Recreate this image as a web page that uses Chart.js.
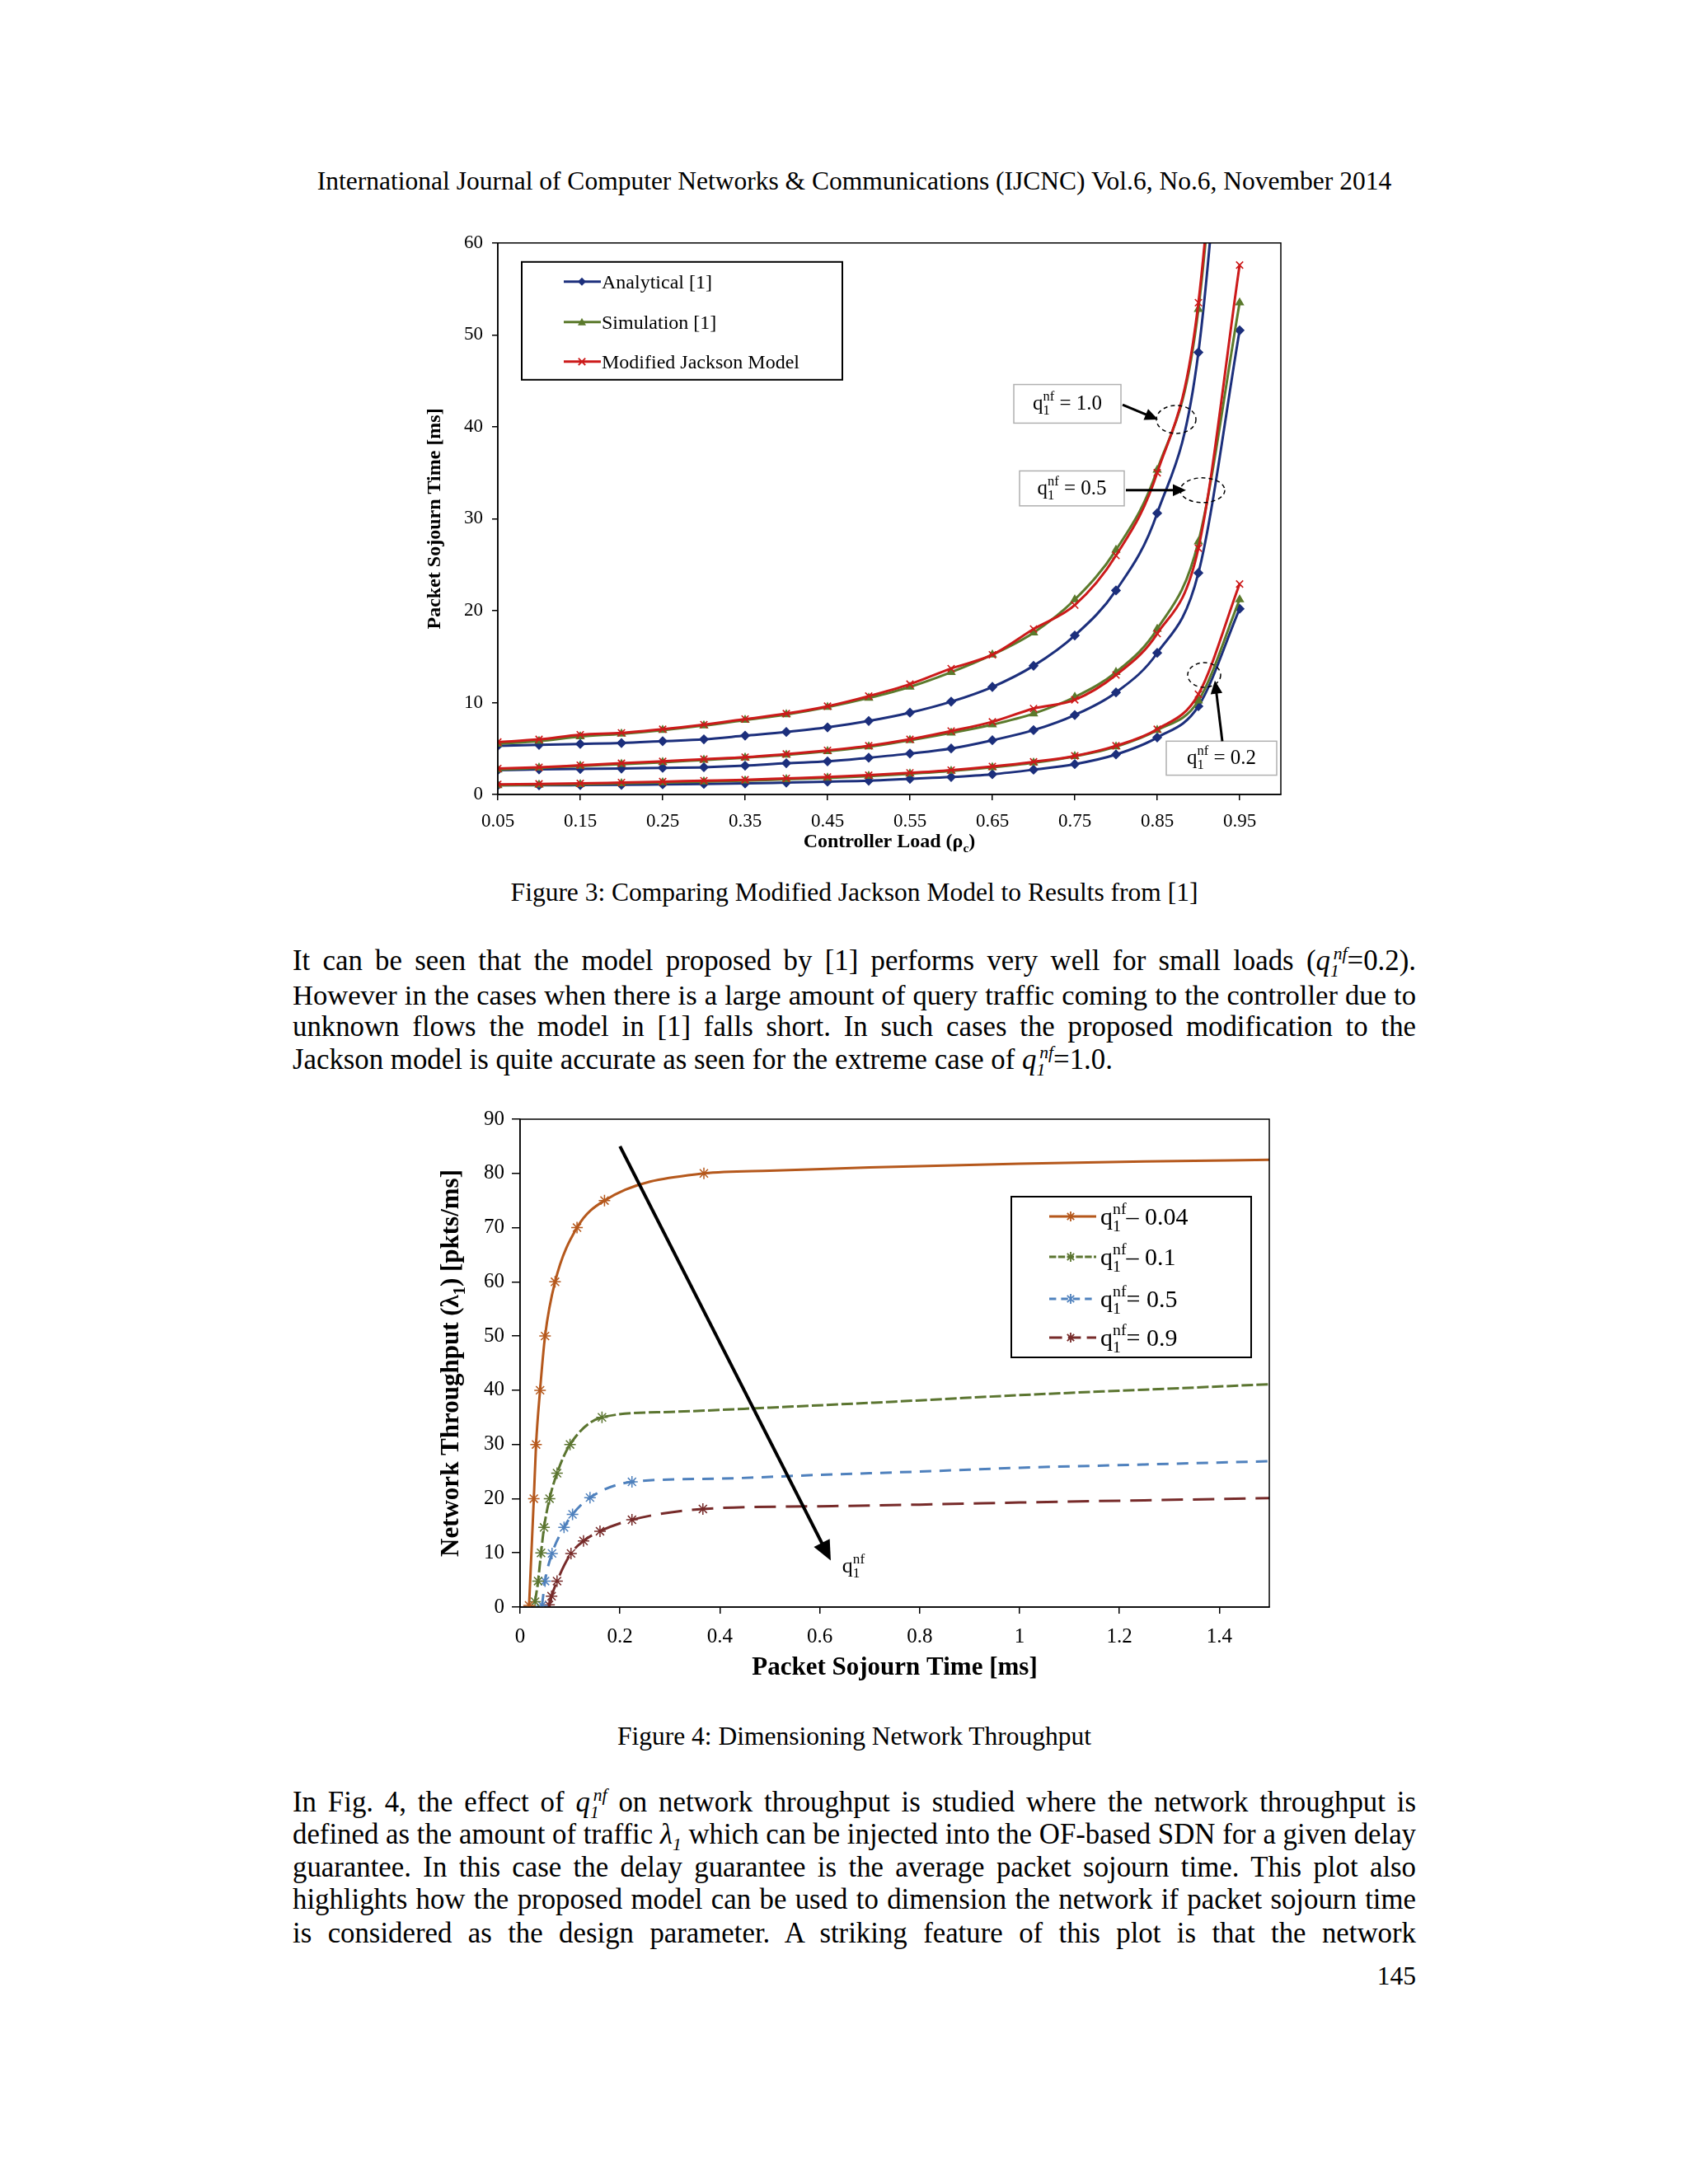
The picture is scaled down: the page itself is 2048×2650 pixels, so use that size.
<!DOCTYPE html>
<html>
<head>
<meta charset="utf-8">
<script src="https://cdn.jsdelivr.net/npm/chart.js@4/dist/chart.umd.min.js"></script>
<style>
body { margin: 0; background: #fff; }
#page { position: relative; width: 2048px; height: 2650px; background: #fff; color: #000;
        font-family: "Liberation Serif", "Times New Roman", serif; }
.line { position: absolute; left: 355px; width: 1363px; height: 40px; line-height: 40px; font-size: 31.5px; }
.body { font-size: 34.8px; }
.just { text-align: justify; text-align-last: justify; }
.center { text-align: center; }
.right { text-align: right; }
sub, sup { font-size: 0.62em; line-height: 0; }
sup.nf { margin-left: -0.32em; }
canvas { position: absolute; }
</style>
</head>
<body>
<div id="page">
  <div class="line center" style="top:200px">International Journal of Computer Networks &amp; Communications (IJCNC) Vol.6, No.6, November 2014</div>

  <canvas id="chartOne" width="1080" height="790" style="left:500px; top:270px"></canvas>

  <div class="line center" style="top:1063px">Figure 3: Comparing Modified Jackson Model to Results from [1]</div>

  <div class="line body just" style="top:1146px">It can be seen that the model proposed by [1] performs very well for small loads (<i>q<sub>1</sub><sup class="nf">nf</sup></i>=0.2).</div>
  <div class="line body just" style="top:1187px">However in the cases when there is a large amount of query traffic coming to the controller due to</div>
  <div class="line body just" style="top:1226px">unknown flows the model in [1] falls short. In such cases the proposed modification to the</div>
  <div class="line body" style="top:1266px">Jackson model is quite accurate as seen for the extreme case of <i>q<sub>1</sub><sup class="nf">nf</sup></i>=1.0.</div>

  <canvas id="chartTwo" width="1080" height="740" style="left:500px; top:1330px"></canvas>

  <div class="line center" style="top:2087px">Figure 4: Dimensioning Network Throughput</div>

  <div class="line body just" style="top:2167px">In Fig. 4, the effect of <i>q<sub>1</sub><sup class="nf">nf</sup></i> on network throughput is studied where the network throughput is</div>
  <div class="line body just" style="top:2206px">defined as the amount of traffic <i>λ<sub>1</sub></i> which can be injected into the OF-based SDN for a given delay</div>
  <div class="line body just" style="top:2246px">guarantee. In this case the delay guarantee is the average packet sojourn time. This plot also</div>
  <div class="line body just" style="top:2285px">highlights how the proposed model can be used to dimension the network if packet sojourn time</div>
  <div class="line body just" style="top:2326px">is considered as the design parameter. A striking feature of this plot is that the network</div>
  <div class="line right" style="top:2378px">145</div>
</div>

<script>
// shrink a text line slightly if it would wrap
document.querySelectorAll(".line").forEach(el => {
    let fs = parseFloat(getComputedStyle(el).fontSize);
    while (el.scrollHeight > 48 && fs > 20) {
        fs -= 0.2;
        el.style.fontSize = fs + "px";
    }
});

// ---------- Figure 3 data: packet sojourn time [ms] vs controller load ----------
const loads = [0.05, 0.10, 0.15, 0.20, 0.25, 0.30, 0.35, 0.40, 0.45, 0.50,
               0.55, 0.60, 0.65, 0.70, 0.75, 0.80, 0.85, 0.90, 0.95];
const loadTicks = [0.05, 0.15, 0.25, 0.35, 0.45, 0.55, 0.65, 0.75, 0.85, 0.95];
const seriesNames = ["Analytical [1]", "Simulation [1]", "Modified Jackson Model"];

// q1nf = 1.0
const analyticalQ10 = [5.3, 5.4, 5.5, 5.6, 5.8, 6.0, 6.4, 6.8, 7.3, 8.0, 8.9, 10.1, 11.7, 14.0, 17.3, 22.2, 30.6, 48.1, 100];
const simulationQ10 = [5.5, 5.8, 6.3, 6.6, 7.0, 7.5, 8.1, 8.7, 9.5, 10.5, 11.7, 13.3, 15.2, 17.6, 21.2, 26.6, 35.3, 52.8, 108];
const jacksonQ10    = [5.7, 6.0, 6.5, 6.7, 7.1, 7.6, 8.2, 8.8, 9.6, 10.7, 12.0, 13.7, 15.2, 18.0, 20.6, 26.0, 35.0, 53.5, 110];
// q1nf = 0.5
const analyticalQ05 = [2.65, 2.73, 2.78, 2.82, 2.9, 2.96, 3.13, 3.4, 3.6, 4.0, 4.45, 5.0, 5.9, 7.0, 8.65, 11.1, 15.4, 24.1, 50.5];
const simulationQ05 = [2.7, 2.9, 3.1, 3.3, 3.5, 3.75, 4.0, 4.3, 4.7, 5.2, 5.9, 6.7, 7.6, 8.8, 10.6, 13.3, 18.0, 27.5, 53.5];
const jacksonQ05    = [2.82, 2.96, 3.18, 3.4, 3.6, 3.84, 4.06, 4.4, 4.8, 5.3, 6.0, 6.9, 7.9, 9.35, 10.3, 13.0, 17.5, 26.8, 57.6];
// q1nf = 0.2
const analyticalQ02 = [1.0, 1.0, 1.02, 1.05, 1.1, 1.15, 1.2, 1.3, 1.4, 1.5, 1.7, 1.9, 2.2, 2.7, 3.3, 4.35, 6.2, 9.6, 20.2];
const simulationQ02 = [1.0, 1.05, 1.1, 1.2, 1.3, 1.4, 1.5, 1.65, 1.8, 2.0, 2.25, 2.55, 2.95, 3.45, 4.15, 5.2, 7.0, 10.2, 21.2];
const jacksonQ02    = [1.1, 1.15, 1.2, 1.3, 1.4, 1.5, 1.6, 1.75, 1.9, 2.1, 2.35, 2.65, 3.05, 3.55, 4.2, 5.3, 7.1, 10.9, 22.9];

// ---------- Figure 4 data: throughput [pkts/ms] vs packet sojourn time [ms] ----------
const delayTicks = [0, 0.2, 0.4, 0.6, 0.8, 1.0, 1.2, 1.4];
const qValues = ["0.04", "0.1", "0.5", "0.9"];
const qSigns = ["\u2013", "\u2013", "=", "="];

const delayQ004 = [0.018, 0.0275, 0.032, 0.040, 0.050, 0.070, 0.114, 0.169, 0.368];
const thrQ004   = [0.3, 20, 30, 40, 50, 60, 70, 75, 80];
const delayTailQ004 = [0.5, 0.7, 1.0, 1.25, 1.5];
const thrTailQ004   = [80.5, 81.1, 81.8, 82.2, 82.5];

const delayQ01 = [0.030, 0.036, 0.042, 0.048, 0.059, 0.074, 0.100, 0.164];
const thrQ01   = [1.0, 4.8, 10, 14.7, 20, 24.7, 30, 35];
const delayTailQ01 = [0.3, 0.5, 0.75, 1.0, 1.25, 1.5];
const thrTailQ01   = [36.0, 36.8, 37.9, 39.1, 40.1, 41.1];

const delayQ05 = [0.044, 0.050, 0.064, 0.088, 0.105, 0.140, 0.224];
const thrQ05   = [0.3, 4.8, 9.9, 14.7, 17.1, 20.2, 23.1];
const delayTailQ05 = [0.4, 0.6, 0.8, 1.0, 1.25, 1.5];
const thrTailQ05   = [23.7, 24.4, 25.0, 25.7, 26.3, 26.9];

const delayQ09 = [0.058, 0.063, 0.074, 0.102, 0.127, 0.160, 0.224, 0.366];
const thrQ09   = [0.4, 2.0, 4.8, 9.9, 12.2, 14.0, 16.1, 18.1];
const delayTailQ09 = [0.6, 0.8, 1.0, 1.25, 1.5];
const thrTailQ09   = [18.6, 18.9, 19.3, 19.7, 20.1];

const FONT = '"Liberation Serif", "Times New Roman", serif';
Chart.defaults.font.family = FONT;
Chart.defaults.color = "#000";

// draw text made of runs: [text, sizeScale, baselineShift, stackOnPrevious]
function drawRuns(ctx, runs, x, y, size, weight, align) {
    let cursor = 0, prevStart = 0;
    const placed = runs.map(r => {
        const [t, sc = 1, sh = 0, stack = false] = r;
        ctx.font = weight + " " + (size * sc) + "px " + FONT;
        const w = ctx.measureText(t).width;
        const start = stack ? prevStart : cursor;
        prevStart = start;
        cursor = Math.max(cursor, start + w);
        return { t, sc, sh, start };
    });
    let x0 = x;
    if (align === "center") x0 = x - cursor / 2;
    if (align === "right") x0 = x - cursor;
    ctx.textBaseline = "alphabetic";
    ctx.textAlign = "left";
    placed.forEach(p => {
        ctx.font = weight + " " + (size * p.sc) + "px " + FONT;
        ctx.fillText(p.t, x0 + p.start, y + p.sh * size);
    });
}

function qRuns(rest) {
    return [["q"], ["1", 0.66, 0.25], ["nf", 0.66, -0.42, true], [rest]];
}

function drawMarker(ctx, style, x, y, r, color) {
    ctx.save();
    ctx.strokeStyle = color;
    ctx.fillStyle = color;
    ctx.lineWidth = 1.8;
    ctx.beginPath();
    if (style === "rectRot") {
        ctx.moveTo(x, y - r); ctx.lineTo(x + r, y); ctx.lineTo(x, y + r); ctx.lineTo(x - r, y);
        ctx.closePath(); ctx.fill();
    } else if (style === "triangle") {
        ctx.moveTo(x, y - r); ctx.lineTo(x + r, y + r * 0.8); ctx.lineTo(x - r, y + r * 0.8);
        ctx.closePath(); ctx.fill();
    } else {
        ctx.moveTo(x - r * 0.7, y - r * 0.7); ctx.lineTo(x + r * 0.7, y + r * 0.7);
        ctx.moveTo(x + r * 0.7, y - r * 0.7); ctx.lineTo(x - r * 0.7, y + r * 0.7);
        if (style === "star") { ctx.moveTo(x, y - r); ctx.lineTo(x, y + r); }
        ctx.stroke();
    }
    ctx.restore();
}

function drawArrow(ctx, x1, y1, x2, y2, width, head) {
    const ang = Math.atan2(y2 - y1, x2 - x1);
    ctx.save();
    ctx.strokeStyle = "#000";
    ctx.fillStyle = "#000";
    ctx.lineWidth = width;
    ctx.beginPath();
    ctx.moveTo(x1, y1);
    ctx.lineTo(x2 - Math.cos(ang) * head * 0.8, y2 - Math.sin(ang) * head * 0.8);
    ctx.stroke();
    ctx.beginPath();
    ctx.moveTo(x2, y2);
    ctx.lineTo(x2 - head * Math.cos(ang) + head * 0.45 * Math.sin(ang), y2 - head * Math.sin(ang) - head * 0.45 * Math.cos(ang));
    ctx.lineTo(x2 - head * Math.cos(ang) - head * 0.45 * Math.sin(ang), y2 - head * Math.sin(ang) + head * 0.45 * Math.cos(ang));
    ctx.closePath();
    ctx.fill();
    ctx.restore();
}

function dashedEllipse(ctx, cx, cy, rx, ry) {
    ctx.save();
    ctx.strokeStyle = "#000";
    ctx.lineWidth = 1.5;
    ctx.setLineDash([5, 4]);
    ctx.beginPath();
    ctx.ellipse(cx, cy, rx, ry, 0, 0, Math.PI * 2);
    ctx.stroke();
    ctx.restore();
}

function axisOpts(tickSize, tickLen, pad, extent, isX) {
    return {
        type: "linear",
        grid: { display: true, drawOnChartArea: false, drawTicks: true, tickLength: tickLen, color: "#000", lineWidth: 1.5 },
        border: { display: true, color: "#000", width: 1.5 },
        ticks: { font: { size: tickSize }, padding: pad, maxRotation: 0, autoSkip: false, color: "#000" },
        afterFit: isX ? s => { s.height = extent; } : s => { s.width = extent; }
    };
}

// ---------------- Figure 3 ----------------
const modelLook = [
    { color: "#1c2f7c", point: "rectRot", radius: 5 },
    { color: "#5b7a2c", point: "triangle", radius: 5 },
    { color: "#cc1a1a", point: "crossRot", radius: 6 }
];
const groups = [
    [analyticalQ10, simulationQ10, jacksonQ10],
    [analyticalQ05, simulationQ05, jacksonQ05],
    [analyticalQ02, simulationQ02, jacksonQ02]
];
let datasetsOne = [];
groups.forEach(group => {
    // red first so it sits on top
    [2, 1, 0].forEach(m => {
        datasetsOne.push({
            label: seriesNames[m],
            data: loads.map((x, i) => ({ x: x, y: group[m][i] })),
            showLine: true,
            borderColor: modelLook[m].color,
            backgroundColor: modelLook[m].color,
            borderWidth: 3,
            pointStyle: modelLook[m].point,
            pointRadius: modelLook[m].radius,
            pointBorderWidth: 1.6,
            cubicInterpolationMode: "monotone"
        });
    });
});

const xOne = axisOpts(23, 7, 12, 96, true);
xOne.min = 0.05; xOne.max = 1.0;
xOne.afterBuildTicks = s => { s.ticks = loadTicks.map(v => ({ value: v })); };
xOne.ticks.callback = v => v.toFixed(2);
const yOne = axisOpts(23, 7, 11, 104, false);
yOne.min = 0; yOne.max = 60;
yOne.ticks.stepSize = 10;

const decorOne = {
    id: "decorOne",
    afterDraw(chart) {
        const ctx = chart.ctx, a = chart.chartArea;
        const xs = chart.scales.x, ys = chart.scales.y;
        const px = v => xs.getPixelForValue(v), py = v => ys.getPixelForValue(v);
        ctx.save();
        ctx.fillStyle = "#000";
        ctx.strokeStyle = "#000";
        ctx.lineWidth = 1.5;
        ctx.strokeRect(a.left, a.top, a.right - a.left, a.bottom - a.top);

        // legend
        const lx = a.left + 29, ly = a.top + 23;
        ctx.fillStyle = "#fff";
        ctx.fillRect(lx, ly, 389, 143);
        ctx.lineWidth = 2;
        ctx.strokeRect(lx, ly, 389, 143);
        [24, 73, 121].forEach((dy, m) => {
            const yy = ly + dy;
            ctx.strokeStyle = modelLook[m].color;
            ctx.lineWidth = 3;
            ctx.beginPath(); ctx.moveTo(lx + 51, yy); ctx.lineTo(lx + 96, yy); ctx.stroke();
            drawMarker(ctx, modelLook[m].point, lx + 73, yy, modelLook[m].radius, modelLook[m].color);
            ctx.fillStyle = "#000";
            drawRuns(ctx, [[seriesNames[m]]], lx + 97, yy + 8, 24, "normal", "left");
        });

        // callouts
        const boxes = [
            { x0: 0.676, y0: 44.6, x1: 0.806, y1: 40.4, text: " = 1.0" },
            { x0: 0.683, y0: 35.2, x1: 0.810, y1: 31.4, text: " = 0.5" },
            { x0: 0.861, y0: 5.8, x1: 0.995, y1: 2.1, text: " = 0.2" }
        ];
        boxes.forEach(b => {
            const bx = px(b.x0), by = py(b.y0), bw = px(b.x1) - bx, bh = py(b.y1) - by;
            ctx.fillStyle = "#fff";
            ctx.fillRect(bx, by, bw, bh);
            ctx.strokeStyle = "#b0b0b0";
            ctx.lineWidth = 1.5;
            ctx.strokeRect(bx, by, bw, bh);
            ctx.fillStyle = "#000";
            drawRuns(ctx, qRuns(b.text), bx + bw / 2, by + bh / 2 + 7, 25, "normal", "center");
        });
        dashedEllipse(ctx, px(0.873), py(40.8), 24, 17);
        dashedEllipse(ctx, px(0.905), py(33.1), 27, 15);
        dashedEllipse(ctx, px(0.907), py(13.0), 20, 15);
        drawArrow(ctx, px(0.808), py(42.4), px(0.851), py(40.8), 3, 16);
        drawArrow(ctx, px(0.812), py(33.1), px(0.885), py(33.1), 3, 16);
        drawArrow(ctx, px(0.929), py(5.8), px(0.920), py(12.4), 3, 16);

        // axis titles
        ctx.fillStyle = "#000";
        drawRuns(ctx, [["Controller Load (\u03c1"], ["c", 0.65, 0.25], [")"]],
                 (a.left + a.right) / 2, a.bottom + 64, 24, "bold", "center");
        ctx.save();
        ctx.translate(a.left - 78, (a.top + a.bottom) / 2);
        ctx.rotate(-Math.PI / 2);
        drawRuns(ctx, [["Packet Sojourn Time [ms]"]], 0, 8, 24, "bold", "center");
        ctx.restore();
        ctx.restore();
    }
};

new Chart(document.getElementById("chartOne").getContext("2d"), {
    type: "scatter",
    data: { datasets: datasetsOne },
    options: {
        responsive: false,
        animation: false,
        layout: { padding: { top: 18, right: 26, left: 0, bottom: 0 } },
        scales: { x: xOne, y: yOne },
        plugins: { legend: { display: false }, tooltip: { enabled: false } }
    },
    plugins: [decorOne]
});

// ---------------- Figure 4 ----------------
const qLook = [
    { color: "#b5581c", dash: [] },
    { color: "#5b7530", dash: [14, 4] },
    { color: "#4f81bd", dash: [14, 10] },
    { color: "#772b2a", dash: [26, 12] }
];
const curves = [
    [delayQ004, thrQ004, delayTailQ004, thrTailQ004],
    [delayQ01, thrQ01, delayTailQ01, thrTailQ01],
    [delayQ05, thrQ05, delayTailQ05, thrTailQ05],
    [delayQ09, thrQ09, delayTailQ09, thrTailQ09]
];
const datasetsTwo = curves.map((c, k) => {
    const marked = c[0].length;
    const pts = c[0].map((x, i) => ({ x: x, y: c[1][i] }))
        .concat(c[2].map((x, i) => ({ x: x, y: c[3][i] })));
    return {
        label: "q1nf " + qSigns[k] + " " + qValues[k],
        data: pts,
        showLine: true,
        borderColor: qLook[k].color,
        backgroundColor: qLook[k].color,
        borderDash: qLook[k].dash,
        borderWidth: 3,
        pointStyle: "star",
        pointRadius: ctx => ctx.dataIndex < marked ? 7 : 0,
        pointBorderWidth: 1.5,
        cubicInterpolationMode: "monotone"
    };
});

const xTwo = axisOpts(25, 8, 13, 120, true);
xTwo.min = 0; xTwo.max = 1.5;
xTwo.afterBuildTicks = s => { s.ticks = delayTicks.map(v => ({ value: v })); };
xTwo.ticks.callback = v => String(+v.toFixed(1));
const yTwo = axisOpts(25, 10, 9, 131, false);
yTwo.min = 0; yTwo.max = 90;
yTwo.ticks.stepSize = 10;

const decorTwo = {
    id: "decorTwo",
    afterDraw(chart) {
        const ctx = chart.ctx, a = chart.chartArea;
        const xs = chart.scales.x, ys = chart.scales.y;
        const px = v => xs.getPixelForValue(v), py = v => ys.getPixelForValue(v);
        ctx.save();
        ctx.strokeStyle = "#000";
        ctx.lineWidth = 1.5;
        ctx.strokeRect(a.left, a.top, a.right - a.left, a.bottom - a.top);

        // legend
        const lx = a.left + 596, ly = a.top + 94;
        ctx.fillStyle = "#fff";
        ctx.fillRect(lx, ly, 291, 195);
        ctx.lineWidth = 2;
        ctx.strokeStyle = "#000";
        ctx.strokeRect(lx, ly, 291, 195);
        [24, 73, 124, 171].forEach((dy, k) => {
            const yy = ly + dy;
            ctx.save();
            ctx.strokeStyle = qLook[k].color;
            ctx.lineWidth = 3;
            ctx.setLineDash(qLook[k].dash.map(d => d * 0.6));
            ctx.beginPath(); ctx.moveTo(lx + 46, yy); ctx.lineTo(lx + 103, yy); ctx.stroke();
            ctx.restore();
            drawMarker(ctx, "star", lx + 72, yy, 6, qLook[k].color);
            ctx.fillStyle = "#000";
            drawRuns(ctx, qRuns(qSigns[k] + " " + qValues[k]), lx + 108, yy + 10, 30, "normal", "left");
        });

        // arrow showing increasing q1nf
        drawArrow(ctx, px(0.2), py(85), px(0.622), py(8.6), 4, 24);
        ctx.fillStyle = "#000";
        drawRuns(ctx, qRuns(""), px(0.645), py(6.4), 26, "normal", "left");

        // axis titles
        drawRuns(ctx, [["Packet Sojourn Time [ms]"]], (a.left + a.right) / 2, a.bottom + 82, 31, "bold", "center");
        ctx.save();
        ctx.translate(a.left - 86, (a.top + a.bottom) / 2);
        ctx.rotate(-Math.PI / 2);
        drawRuns(ctx, [["Network Throughput (\u03bb"], ["1", 0.65, 0.25], [") [pkts/ms]"]], 0, 11, 31, "bold", "center");
        ctx.restore();
        ctx.restore();
    }
};

new Chart(document.getElementById("chartTwo").getContext("2d"), {
    type: "scatter",
    data: { datasets: datasetsTwo },
    options: {
        responsive: false,
        animation: false,
        layout: { padding: { top: 28, right: 40, left: 0, bottom: 0 } },
        scales: { x: xTwo, y: yTwo },
        plugins: { legend: { display: false }, tooltip: { enabled: false } }
    },
    plugins: [decorTwo]
});
</script>
</body>
</html>
